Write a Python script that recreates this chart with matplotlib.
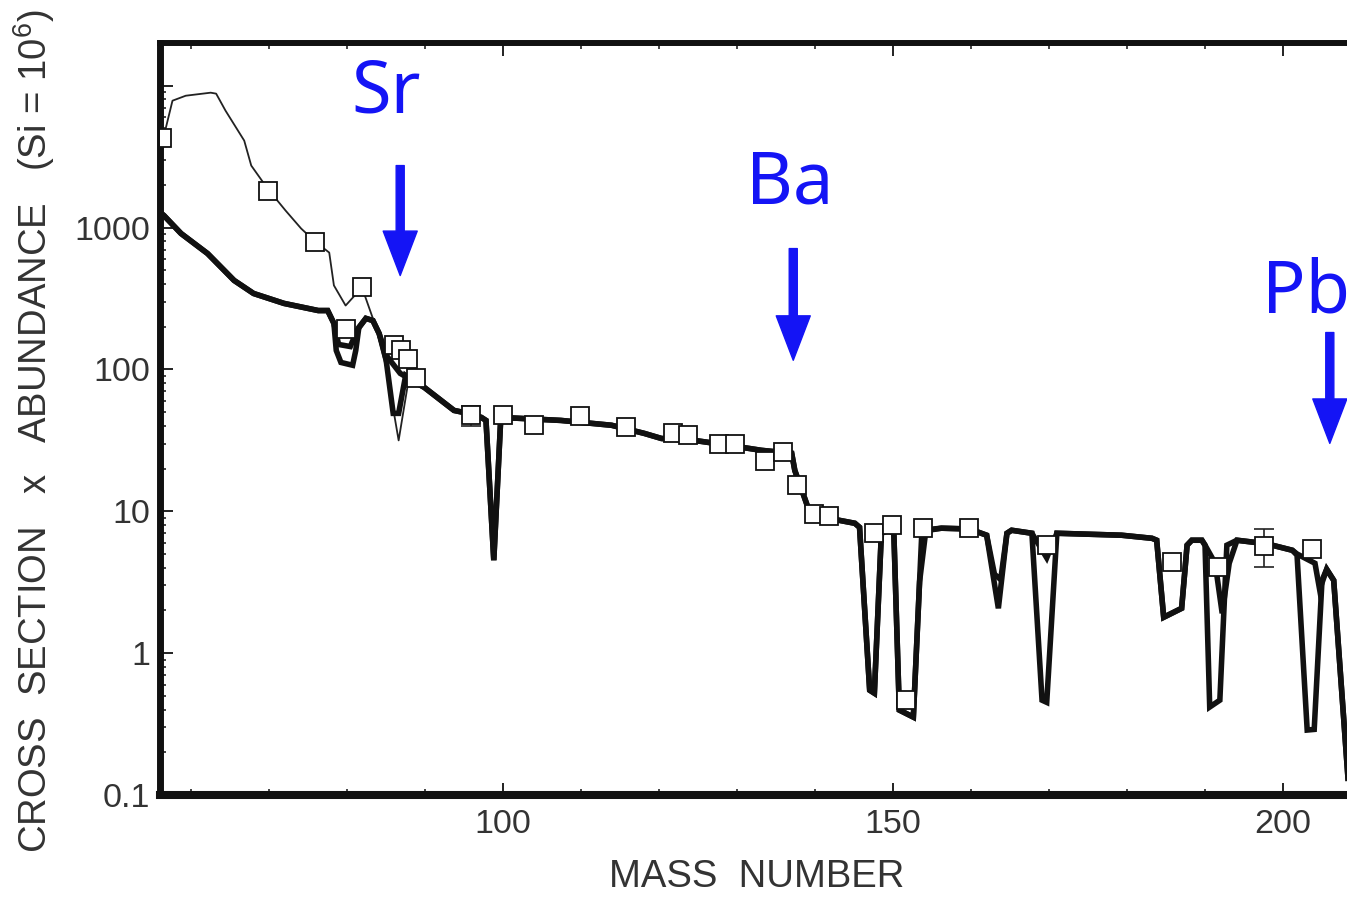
import numpy as np
import matplotlib
matplotlib.use("Agg")
import matplotlib.pyplot as plt
from matplotlib.ticker import MultipleLocator, LogLocator, NullFormatter

# ---------------- data ----------------
# thin curve (upper model at low masses)
thin_mass = [56.1, 57.6, 59.3, 62.5, 63.2, 64.4, 66.8, 67.7, 69.8, 72.1, 74.1,
             75.9, 77.7, 78.3, 79.8, 81.9, 83.7, 85.0, 86.6, 87.8, 88.8]
thin_val = [3600, 7840, 8500, 8930, 8790, 6670, 4100, 2735, 1880, 1318, 984,
            796, 666, 391, 282, 378, 198, 103, 31.6, 79.6, 77]

# thick curve A (deep dips)
a_mass = [56.0, 56.5, 58.7, 62.1, 65.5, 68.0, 71.9, 76.3, 77.5, 78.3, 78.6, 79.2,
          80.7, 81.1, 81.5, 82.4, 83.3, 84.1, 85.0, 85.9, 86.6, 87.5, 88.8, 89.9,
          93.7, 95.5, 97.2, 97.8, 98.8, 99.7, 107.4, 113.9, 118.1, 120.3, 124.5,
          128.9, 133.1, 137.0, 137.4, 138.3, 139.2, 141.7, 145.1, 145.7, 147.0,
          147.6, 148.5, 149.4, 150.1, 150.8, 152.6, 153.7, 156.2, 159.8, 162.0,
          163.5, 164.6, 165.2, 167.8, 169.1, 169.7, 171.0, 179.3, 183.2, 183.8,
          184.7, 187.0, 187.7, 188.3, 189.6, 190.0, 190.6, 191.9, 192.8, 194.1,
          197.9, 201.2, 201.8, 203.1, 204.0, 205.0, 205.6, 206.5, 208.5, 209.2]
a_val = [1280, 1216, 908, 656, 424, 343, 292, 260, 260, 211, 136, 112,
         107, 136, 198, 229, 221, 179, 116, 49, 49, 90.7, 80.9, 74.6,
         51.4, 49, 45.9, 43.7, 4.52, 45.9, 43.7, 40.4, 35.4, 32.6, 31.6,
         29.2, 26.9, 25.6, 19.4, 14.1, 10.2, 8.93, 8.23, 7.71, 0.548,
         0.522, 7.0, 7.35, 7.0, 0.397, 0.354, 7.35, 7.6, 7.5, 6.78,
         2.07, 7.0, 7.35, 7.0, 0.466, 0.45, 7.0, 6.78, 6.45, 6.25,
         1.79, 2.07, 5.77, 6.25, 6.25, 5.77, 0.417, 0.466, 5.77, 6.25,
         5.9, 5.31, 4.9, 0.287, 0.29, 3.26, 3.9, 3.26, 0.098, 0.05]

# thick curve B (shallower dips)
b_mass = [56.0, 56.5, 58.7, 62.1, 65.5, 68.0, 71.9, 76.3, 77.5, 78.3, 78.9, 80.4,
          81.3, 82.4, 83.3, 84.1, 85.0, 86.8, 88.8, 89.9,
          93.7, 95.5, 97.2, 97.8, 98.8, 99.7, 107.4, 113.9, 118.1, 120.3, 124.5,
          128.9, 133.1, 137.0, 137.4, 138.3, 139.2, 141.7, 145.1, 145.7, 147.0,
          147.6, 148.5, 149.4, 150.1, 150.8, 152.6, 153.4, 154.2, 156.2, 159.8, 162.0,
          163.0, 163.8, 164.6, 165.2, 167.8, 169.7, 171.0, 179.3, 183.2, 183.8,
          184.7, 187.0, 187.7, 188.3, 189.6, 190.0, 191.3, 192.2, 193.1, 194.1,
          197.9, 201.2, 201.8, 204.1, 204.7, 205.6, 206.5, 208.5, 209.2]
b_val = [1280, 1216, 908, 656, 424, 343, 292, 260, 260, 211, 150, 145,
         190, 229, 221, 179, 126, 93.8, 80.9, 74.6,
         51.4, 49, 45.9, 43.7, 4.52, 45.9, 43.7, 40.4, 35.4, 32.6, 31.6,
         29.2, 26.9, 25.6, 19.4, 14.1, 10.2, 8.93, 8.23, 7.71, 0.548,
         0.522, 7.0, 7.35, 7.0, 0.397, 0.354, 3.2, 7.3, 7.6, 7.5, 6.78,
         3.6, 3.3, 7.0, 7.35, 7.0, 4.7, 7.0, 6.78, 6.45, 6.25,
         1.79, 2.07, 5.77, 6.25, 6.25, 5.77, 4.3, 1.91, 4.3, 6.25,
         5.9, 5.31, 5.0, 4.3, 2.8, 3.9, 3.26, 0.098, 0.05]

# observed values (open squares)
obs_mass = [56.2, 69.8, 75.9, 79.9, 81.9, 86.0, 86.9, 87.8, 88.8, 95.9, 100.0,
            104.0, 109.9, 115.8, 121.8, 123.7, 127.7, 129.7, 133.6, 135.9, 137.7,
            139.8, 141.8, 147.6, 149.8, 151.6, 153.8, 159.7, 169.7, 185.8, 191.7,
            197.6, 203.7]
obs_val = [4300, 1824, 796, 194, 378, 147.6, 138, 119, 86.4, 47.4, 47.4,
           40.4, 46.7, 39.1, 35.4, 34.3, 29.7, 29.7, 22.5, 26.0, 15.2,
           9.53, 9.23, 7.0, 7.96, 0.466, 7.59, 7.59, 5.77, 4.37, 4.03,
           5.68, 5.40]

# error bars
err_mass = [95.9, 197.6]
err_val = [47.4, 5.68]
err_lo = [39.7, 4.04]
err_hi = [55.0, 7.46]

# blue annotations
lab_text = ["Sr", "Ba", "Pb"]
lab_mass = [85.0, 136.7, 202.9]
lab_base = [6457, 1476, 252]
arr_mass = [86.8, 137.2, 206.0]
arr_tail = [2735, 711, 182]
arr_tip = [459, 116, 30.1]

y_ticks = [0.1, 1, 10, 100, 1000, 10000]
y_ticklabels = ["0.1", "1", "10", "100", "1000", ""]

# ---------------- figure ----------------
plt.rcParams["font.family"] = ["Liberation Sans", "DejaVu Sans"]
plt.rcParams["mathtext.fontset"] = "custom"
plt.rcParams["mathtext.rm"] = "Liberation Sans"
plt.rcParams["mathtext.it"] = "Liberation Sans:italic"

W, H = 1347, 899
fig = plt.figure(figsize=(W / 100, H / 100), dpi=100)
ax = fig.add_axes([160 / W, (H - 795) / H, (1361 - 160) / W, (795 - 43) / H])

ax.set_yscale("log")
ax.set_xlim(56, 210)
ax.set_ylim(0.1, 2e4)

line_col = "#111111"
ax.plot(thin_mass, thin_val, color="#222222", lw=1.3, zorder=2)
ax.plot(a_mass, a_val, color=line_col, lw=4.0, solid_joinstyle="miter", zorder=3)
ax.plot(b_mass, b_val, color=line_col, lw=4.0, solid_joinstyle="miter", zorder=3)

ax.errorbar(err_mass, err_val,
            yerr=[np.array(err_val) - np.array(err_lo), np.array(err_hi) - np.array(err_val)],
            fmt="none", ecolor="#222222", elinewidth=1.2, capsize=7, capthick=1.2, zorder=4)
ax.plot(obs_mass, obs_val, ls="none", marker="s", ms=12.5, mfc="white",
        mec="#111111", mew=1.3, zorder=5)

# annotations
blue = "#1414f5"
for t, m, yb in zip(lab_text, lab_mass, lab_base):
    ax.text(m, yb, t, color=blue, fontsize=52, family=["Noto Sans", "DejaVu Sans"],
            ha="center", va="baseline", zorder=6, clip_on=False)
for m, yt, yp in zip(arr_mass, arr_tail, arr_tip):
    ax.annotate("", xy=(m, yp), xytext=(m, yt),
                arrowprops=dict(color=blue, width=5.8, headwidth=24.5,
                                headlength=32, shrink=0), zorder=6)

# ticks
ax.xaxis.set_major_locator(MultipleLocator(50))
ax.xaxis.set_minor_locator(MultipleLocator(10))
ax.set_yticks(y_ticks)
ax.set_yticklabels(y_ticklabels)
ax.yaxis.set_minor_locator(LogLocator(base=10, subs=np.arange(2, 10)))
ax.yaxis.set_minor_formatter(NullFormatter())

tick_col = "#333333"
ax.tick_params(which="both", direction="in", top=True, right=True, colors="#111111",
               labelcolor=tick_col)
ax.tick_params(which="major", length=9, width=1.3, labelsize=24.5)
ax.tick_params(which="minor", length=4.5, width=1.1)
ax.tick_params(axis="y", which="major", pad=7)
ax.tick_params(axis="x", which="major", pad=10)

for sp in ax.spines.values():
    sp.set_linewidth(4.3)
    sp.set_color("#111111")
ax.spines["bottom"].set_linewidth(5.8)
ax.spines["left"].set_linewidth(5.0)

ax.set_xlabel("MASS  NUMBER", fontsize=27.5, color=tick_col)
ax.xaxis.set_label_coords(0.497, -0.085)
ax.set_ylabel("CROSS  SECTION   x   ABUNDANCE   (Si = 10$^6$)", fontsize=27.5,
              color=tick_col)
ax.yaxis.set_label_coords(-0.086, 0.484)

fig.savefig("out.png", dpi=100)
